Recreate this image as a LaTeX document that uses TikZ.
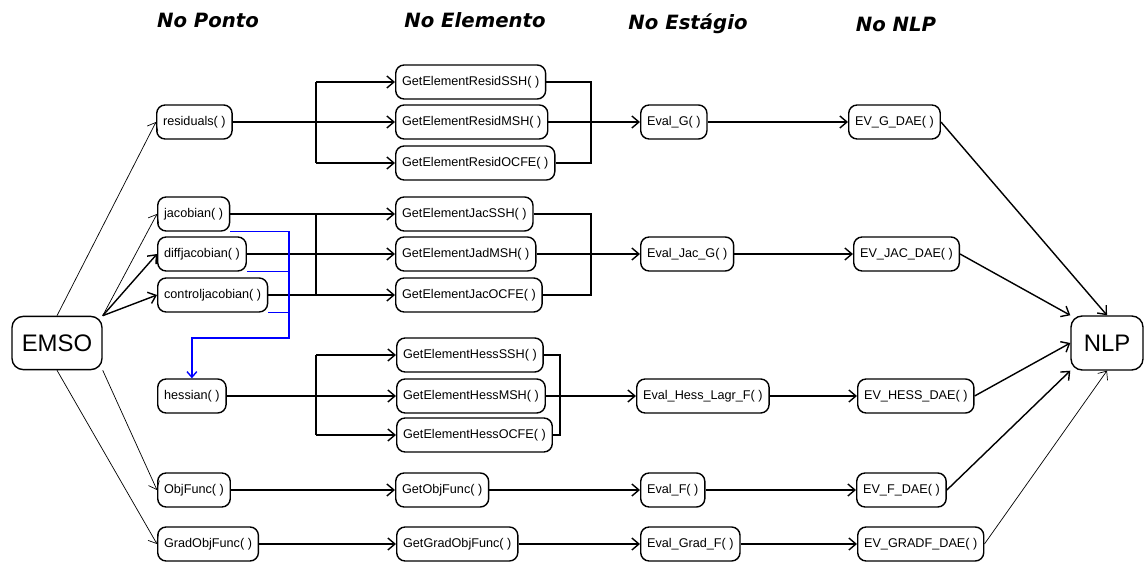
\documentclass[tikz,border=0pt]{standalone}
\usepackage{fontspec}
\setmainfont{Liberation Sans}
\newfontfamily\headfont{DejaVu Sans}
\usepackage{tikz}
\usetikzlibrary{arrows.meta}
\definecolor{LinkBlue}{RGB}{0, 0, 255}

\begin{document}
\begin{tikzpicture}[
        x = 0.025cm, y = -0.025cm,
        tip/.style   = {-{Straight Barb[length = 5pt, width = 8.5pt]}},
        link/.style  = {tip, line width = 1pt},
        flink/.style = {tip, line width = 0.5pt},
        bar/.style   = {line width = 1pt},
        head/.style  = {font = \headfont\bfseries\itshape\fontsize{14}{16}\selectfont},
    ]
    \useasboundingbox (0, 0) rectangle (1144, 563);

    % column titles
    \node[head] (tPonto)    at (208, 20) {No Ponto};
    \node[head] (tElemento) at (475, 20) {No Elemento};
    \node[head] (tEstagio)  at (688, 24) {No Estágio};
    \node[head] (tNLP)      at (896, 24) {No NLP};

    \begin{scope}[
        every node/.style = {
            draw,
            rounded corners = 6pt,
            line width      = 1pt,
            inner xsep      = 0.16cm,
            minimum height  = 0.85cm,
            font            = \fontsize{9}{11}\selectfont,
            anchor          = west,
        }
    ]
        % no ponto
        \node (residuals)  at (156, 122) {residuals( )};
        \node (jacobian)   at (157, 214) {jacobian( )};
        \node (diffjac)    at (157, 254) {diffjacobian( )};
        \node (ctrljac)    at (157, 295) {controljacobian( )};
        \node (hessian)    at (157, 396) {hessian( )};
        \node (objfunc)    at (157, 490) {ObjFunc( )};
        \node (gradobj)    at (157, 544) {GradObjFunc( )};

        % no elemento
        \node (residSSH)   at (395,  82) {GetElementResidSSH( )};
        \node (residMSH)   at (395, 122) {GetElementResidMSH( )};
        \node (residOCFE)  at (395, 163) {GetElementResidOCFE( )};
        \node (jacSSH)     at (395, 214) {GetElementJacSSH( )};
        \node (jacMSH)     at (395, 254) {GetElementJadMSH( )};
        \node (jacOCFE)    at (395, 295) {GetElementJacOCFE( )};
        \node (hessSSH)    at (396, 355) {GetElementHessSSH( )};
        \node (hessMSH)    at (396, 396) {GetElementHessMSH( )};
        \node (hessOCFE)   at (396, 435) {GetElementHessOCFE( )};
        \node (getobj)     at (395, 490) {GetObjFunc( )};
        \node (getgrad)    at (396, 544) {GetGradObjFunc( )};

        % no estagio
        \node (evalG)      at (640, 122) {Eval\_G( )};
        \node (evalJac)    at (640, 254) {Eval\_Jac\_G( )};
        \node (evalHess)   at (636, 396) {Eval\_Hess\_Lagr\_F( )};
        \node (evalF)      at (640, 490) {Eval\_F( )};
        \node (evalGrad)   at (640, 544) {Eval\_Grad\_F( )};

        % no nlp
        \node (evG)        at (848, 122) {EV\_G\_DAE( )};
        \node (evJac)      at (853, 254) {EV\_JAC\_DAE( )};
        \node (evHess)     at (857, 396) {EV\_HESS\_DAE( )};
        \node (evF)        at (856, 490) {EV\_F\_DAE( )};
        \node (evGrad)     at (857, 544) {EV\_GRADF\_DAE( )};

        % the two ends
        \node[anchor = center, minimum width = 2.25cm, minimum height = 1.33cm,
              rounded corners = 8pt, font = \fontsize{17}{20}\selectfont]
            (emso) at (57, 343) {EMSO};
        \node[anchor = center, minimum width = 1.8cm, minimum height = 1.35cm,
              rounded corners = 8pt, font = \fontsize{17}{20}\selectfont]
            (nlp) at (1107, 343) {NLP};
    \end{scope}

    % splitting bars
    \coordinate (splitA) at (316, 0);
    \coordinate (joinA)  at (591, 0);
    \coordinate (joinB)  at (560, 0);
    \coordinate (blueX)  at (289, 0);
    \coordinate (blueY)  at (0, 338);

    % emso to the point functions
    \draw[flink] (emso.north) -- (residuals.west);
    \draw[flink] (emso.north east) -- (jacobian.west);
    \draw[link]  (emso.north east) -- (diffjac.west);
    \draw[link]  (emso.north east) -- (ctrljac.west);
    \draw[flink] (emso.south east) -- (objfunc.west);
    \draw[flink] (emso.south) -- (gradobj.west);

    % point to element
    \draw[bar] (residuals) -- (splitA |- residuals);
    \draw[bar] (splitA |- residSSH) -- (splitA |- residOCFE);
    \foreach \n in {residSSH, residMSH, residOCFE}
        \draw[link] (splitA |- \n) -- (\n);

    \draw[bar] (jacobian) -- (splitA |- jacobian);
    \draw[bar] (diffjac) -- (splitA |- diffjac);
    \draw[bar] (ctrljac) -- (splitA |- ctrljac);
    \draw[bar] (splitA |- jacSSH) -- (splitA |- jacOCFE);
    \foreach \n in {jacSSH, jacMSH, jacOCFE}
        \draw[link] (splitA |- \n) -- (\n);

    \draw[bar] (hessian) -- (splitA |- hessian);
    \draw[bar] (splitA |- hessSSH) -- (splitA |- hessOCFE);
    \foreach \n in {hessSSH, hessMSH, hessOCFE}
        \draw[link] (splitA |- \n) -- (\n);

    \draw[link] (objfunc) -- (getobj);
    \draw[link] (gradobj) -- (getgrad);

    % element to stage
    \draw[bar] (residSSH.east) -| (joinA |- residMSH) |- (residOCFE.east);
    \draw[link] (residMSH) -- (evalG);
    \draw[bar] (jacSSH.east) -| (joinA |- jacMSH) |- (jacOCFE.east);
    \draw[link] (jacMSH) -- (evalJac);
    \draw[bar] (hessSSH.east) -| (joinB |- hessMSH) |- (hessOCFE.east);
    \draw[link] (hessMSH) -- (evalHess);
    \draw[link] (getobj) -- (evalF);
    \draw[link] (getgrad) -- (evalGrad);

    % stage to nlp
    \draw[link] (evalG) -- (evG);
    \draw[link] (evalJac) -- (evJac);
    \draw[link] (evalHess) -- (evHess);
    \draw[link] (evalF) -- (evF);
    \draw[link] (evalGrad) -- (evGrad);

    \draw[link]  (evG.east) -- (nlp.north);
    \draw[link]  (evJac.east) -- (nlp.north west);
    \draw[link]  (evHess.east) -- (nlp.west);
    \draw[link]  (evF.east) -- (nlp.south west);
    \draw[flink] (evGrad.east) -- (nlp.south);

    % jacobians feed the hessian
    \begin{scope}[draw = LinkBlue, line width = 1pt]
        \draw[-{Straight Barb[length = 4pt, width = 7pt]}]
            (jacobian.south east) -| (blueX |- blueY) -| (hessian.north);
        \draw (diffjac.south east) -- (diffjac.south east -| blueX);
        \draw (ctrljac.south east) -- (ctrljac.south east -| blueX);
    \end{scope}
\end{tikzpicture}
\end{document}
